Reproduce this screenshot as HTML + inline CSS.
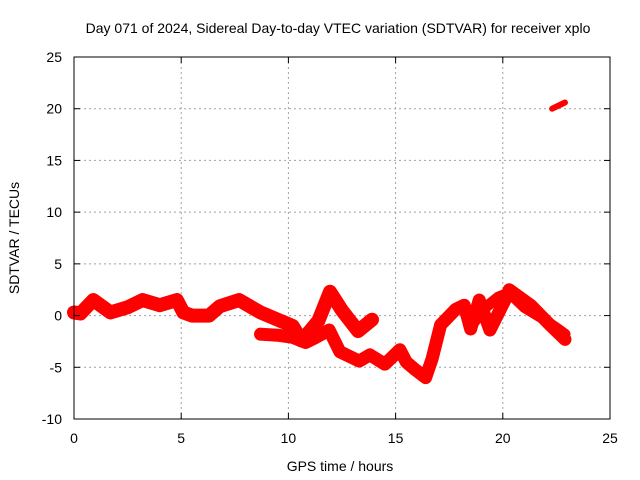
<!DOCTYPE html>
<html><head><meta charset="utf-8"><style>
body{margin:0;background:#fff}
svg{display:block;font-family:"Liberation Sans",sans-serif;font-size:14px}
</style></head><body>
<svg id="c" width="640" height="480">
<text x="338" y="33" text-anchor="middle">Day 071 of 2024, Sidereal Day-to-day VTEC variation (SDTVAR) for receiver xplo</text>
<g id="grid"></g><g id="marks"></g><g id="axes"></g>
<text x="340" y="471" text-anchor="middle">GPS time / hours</text>
<text transform="translate(19,238) rotate(-90)" text-anchor="middle">SDTVAR / TECUs</text>
</svg>
<script>
const xTicks=[0,5,10,15,20,25];
const yTicks=[-10,-5,0,5,10,15,20,25];
const bandMainHours=[0,0.3,0.9,1.7,2.5,3.2,4,4.8,5.1,5.5,6.3,6.8,7.7,8.7,9.5,10.2,10.6,11.0,11.4,11.94,12.5,13.25,13.9];
const bandMainValues=[0.3,0.2,1.5,0.3,0.8,1.5,1,1.5,0.3,0,0,0.9,1.5,0.3,-0.4,-1,-2.4,-1.5,-0.5,2.3,0.5,-1.5,-0.4];
const bandLowHours=[8.7,9.5,10.2,10.8,11.2,11.9,12.4,13.3,13.8,14.5,15.2,15.5,15.9,16.4,16.7,17.1,17.8,18.2,18.5,18.9,19.4,20.1,20.3,21.3,22.2,22.9];
const bandLowValues=[-1.8,-1.9,-2.1,-2.6,-2.2,-1.4,-3.5,-4.4,-3.8,-4.7,-3.3,-4.5,-5.2,-6,-4.2,-0.9,0.6,1,-1.3,1.5,-1.4,1.5,2.5,1,-0.9,-2.3];
const bandUpperHours=[18.6,19.2,19.8,20.3,21.0,21.8,22.5,22.9];
const bandUpperValues=[-0.8,0.8,1.8,2.2,0.8,-0.2,-1.2,-1.8];
const bandTopHours=[22.3,22.9];
const bandTopValues=[20,20.6];
const X0=74,X1=610,Y0=419,Y1=57,xmin=0,xmax=25,ymin=-10,ymax=25;
const sx=h=>X0+(h-xmin)/(xmax-xmin)*(X1-X0);
const sy=v=>Y0-(v-ymin)/(ymax-ymin)*(Y0-Y1);
const NS="http://www.w3.org/2000/svg";
function mk(t,a,p){const e=document.createElementNS(NS,t);for(const k in a)e.setAttribute(k,a[k]);p.appendChild(e);return e;}
const grid=document.getElementById('grid'),axes=document.getElementById('axes'),marks=document.getElementById('marks');
xTicks.forEach(t=>{const x=sx(t);
 if(t>xmin&&t<xmax){const g=mk('line',{x1:x,x2:x,y1:Y1,y2:Y0,stroke:'#a0a0a0','stroke-dasharray':'2,3'},grid);
 }
 mk('line',{x1:x,x2:x,y1:Y0,y2:Y0-6,stroke:'#000'},axes);mk('line',{x1:x,x2:x,y1:Y1,y2:Y1+6,stroke:'#000'},axes);
 const l=mk('text',{x:x,y:Y0+24,'text-anchor':'middle'},axes);l.textContent=t;
 });
yTicks.forEach(t=>{const y=sy(t);
 if(t>ymin&&t<ymax){const g=mk('line',{x1:X0,x2:X1,y1:y,y2:y,stroke:'#a0a0a0','stroke-dasharray':'2,3'},grid);
 }
 mk('line',{x1:X0,x2:X0+6,y1:y,y2:y,stroke:'#000'},axes);mk('line',{x1:X1,x2:X1-6,y1:y,y2:y,stroke:'#000'},axes);
 const l=mk('text',{x:X0-12,y:y+5,'text-anchor':'end'},axes);l.textContent=t;
 });
const fr=mk('rect',{x:X0,y:Y1,width:X1-X0,height:Y0-Y1,fill:'none',stroke:'#000'},axes);

function band(hs,vs,name,w){
 const p=mk('polyline',{points:hs.map((h,i)=>sx(h)+','+sy(vs[i])).join(' '),fill:'none',stroke:'#ff0000','stroke-width':w,'stroke-linejoin':'round','stroke-linecap':'round'},marks);
 }
band(bandMainHours,bandMainValues,'series-band-main',14);
band(bandLowHours,bandLowValues,'series-band-low',13);
band(bandUpperHours,bandUpperValues,'series-band-upper',11);
band(bandTopHours,bandTopValues,'series-band-top',6);
</script>
</body></html>
